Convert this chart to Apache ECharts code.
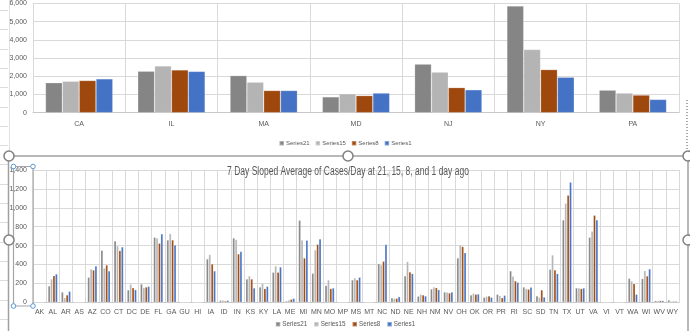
<!DOCTYPE html>
<html>
<head>
<meta charset="utf-8">
<script src="https://cdn.jsdelivr.net/npm/echarts@6/dist/echarts.min.js"></script>
<style>
html,body{margin:0;padding:0;background:#fff;}
#c{width:690px;height:331px;}
</style>
</head>
<body>
<div id="c"></div>
<script>
// ---- Top chart data ----
const topCats = ['CA','IL','MA','MD','NJ','NY','PA'];
const topS21 = [1650, 2280, 2040, 870, 2670, 5860, 1240];
const topS15 = [1730, 2570, 1680, 1040, 2230, 3470, 1080];
const topS8  = [1770, 2350, 1220, 940, 1380, 2370, 970];
const topS1  = [1860, 2270, 1220, 1080, 1260, 1950, 730];

// ---- Bottom chart data ----
const botCats = ['AK','AL','AR','AS','AZ','CO','CT','DC','DE','FL','GA','GU','HI','IA','ID','IN','KS','KY','LA','ME','MI','MN','MO','MP','MS','MT','NC','ND','NE','NH','NM','NV','OH','OK','OR','PR','RI','SC','SD','TN','TX','UT','VA','VI','VT','WA','WI','WV','WY'];
const botS21 = [0,173,109,0,265,551,650,131,194,688,660,0,0,459,21,681,247,162,318,14,868,307,177,0,237,0,409,46,279,64,141,109,469,78,53,85,332,162,67,349,872,152,688,0,0,254,251,18,25];
const botS15 = [0,247,49,0,353,364,597,191,155,681,727,0,0,505,21,664,279,201,385,25,660,554,237,0,258,0,395,42,431,85,162,106,607,95,64,71,275,145,53,501,1048,152,752,0,3,226,335,18,11];
const botS8  = [0,282,78,0,342,395,547,155,162,625,660,0,0,406,14,512,247,145,318,32,469,614,145,0,237,0,434,42,321,78,155,99,590,85,67,49,226,138,131,342,1133,145,921,0,0,198,279,18,11];
const botS1  = [0,300,116,0,385,332,586,134,169,724,607,0,0,332,21,537,152,169,374,42,657,671,152,0,265,0,611,60,304,67,134,109,526,88,53,74,212,159,56,304,1271,152,872,0,0,85,353,18,11];

const seriesNames = ['Series21','Series15','Series8','Series1'];
const colors = ['#858585','#b4b4b4','#9e480e','#4472c4'];
const titleText = '7 Day Sloped Average of Cases/Day at 21, 15, 8, and 1 day ago';

const FONT = '"Liberation Sans",Arial,sans-serif';
const TXT = '#595959';
const GRIDC = '#d9d9d9';

function mkSeries(data, i, axisIdx) {
  return {
    name: seriesNames[i], type: 'bar', xAxisIndex: axisIdx, yAxisIndex: axisIdx,
    data: data, barGap: '0%', barCategoryGap: '27%',
    itemStyle: { color: colors[i], borderColor: 'rgba(255,255,255,0.35)', borderWidth: 0.6 },
    emphasis: { disabled: true }, animation: false
  };
}

const chart = echarts.init(document.getElementById('c'), null, { renderer: 'canvas' });

const graphics = [];
// Spreadsheet cell lines on far left
for (let y = 10; y < 331; y += 19.3) {
  graphics.push({ type: 'line', shape: { x1: 0, y1: Math.round(y) + 0.5, x2: 8, y2: Math.round(y) + 0.5 }, style: { stroke: '#dcdcdc', lineWidth: 1 }, silent: true, z: 0 });
}
graphics.push({ type: 'line', shape: { x1: 9.5, y1: 0, x2: 9.5, y2: 156 }, style: { stroke: '#e0e0e0', lineWidth: 1 }, silent: true });
// selection frame of bottom chart
graphics.push({ type: 'line', shape: { x1: 9.5, y1: 156, x2: 688, y2: 156 }, style: { stroke: '#a0a0a0', lineWidth: 1.5 }, silent: true, z: 10 });
graphics.push({ type: 'line', shape: { x1: 8.5, y1: 156, x2: 8.5, y2: 331 }, style: { stroke: '#a0a0a0', lineWidth: 1.5 }, silent: true, z: 10 });
graphics.push({ type: 'line', shape: { x1: 688, y1: 156, x2: 688, y2: 331 }, style: { stroke: '#a0a0a0', lineWidth: 1.5 }, silent: true, z: 10 });
graphics.push({ type: 'line', shape: { x1: 687, y1: 100, x2: 687, y2: 156 }, style: { stroke: '#555', lineWidth: 1, lineDash: [1, 2] }, silent: true, z: 10 });
[[9, 156], [348, 156], [688, 156], [9, 240], [688, 240]].forEach(p => {
  graphics.push({ type: 'circle', shape: { cx: p[0], cy: p[1], r: 5 }, style: { fill: '#fff', stroke: '#808080', lineWidth: 1.5 }, silent: true, z: 11 });
});
// selected y-axis box
graphics.push({ type: 'rect', shape: { x: 13.5, y: 166.5, width: 19.5, height: 139.5 }, style: { fill: 'none', stroke: '#a6a6a6', lineWidth: 1.2 }, silent: true, z: 10 });
[[13.5, 166.5], [33, 166.5], [13.5, 306], [33, 306]].forEach(p => {
  graphics.push({ type: 'circle', shape: { cx: p[0], cy: p[1], r: 2.3 }, style: { fill: '#fff', stroke: '#5b9bd5', lineWidth: 1 }, silent: true, z: 11 });
});
// chart title (condensed, like the Calibri original)
graphics.push({
  type: 'text', x: 348, y: 172, scaleX: 0.68, scaleY: 1, originX: 0, originY: 0,
  style: { text: titleText, fontFamily: FONT, fontSize: 12.5, fill: TXT, align: 'center', verticalAlign: 'middle' },
  silent: true, z: 12
});

const option = {
  animation: false,
  backgroundColor: '#ffffff',
  color: colors,
  legend: [
    { data: seriesNames, left: 'center', top: 140, itemWidth: 4.5, itemHeight: 4.5, itemGap: 5, icon: 'rect', padding: 0,
      textStyle: { fontFamily: FONT, fontSize: 6, color: TXT, padding: [0, 0, 0, -3] } },
    { data: seriesNames, left: 'center', top: 321, itemWidth: 4.5, itemHeight: 4.5, itemGap: 6, icon: 'rect', padding: 0,
      textStyle: { fontFamily: FONT, fontSize: 6.3, color: TXT, padding: [0, 0, 0, -3] } }
  ],
  grid: [
    { left: 33, top: 0, width: 646, height: 112.7, containLabel: false, show: false },
    { left: 33, top: 170, width: 646, height: 132.3, containLabel: false, show: false }
  ],
  xAxis: [
    { type: 'category', gridIndex: 0, data: topCats,
      axisLine: { show: true, lineStyle: { color: '#c8c8c8' } }, axisTick: { show: false },
      splitLine: { show: true, lineStyle: { color: GRIDC } },
      axisLabel: { fontFamily: FONT, fontSize: 7, color: TXT, margin: 8 } },
    { type: 'category', gridIndex: 1, data: botCats,
      axisLine: { show: true, lineStyle: { color: '#c8c8c8' } }, axisTick: { show: false },
      splitLine: { show: true, lineStyle: { color: GRIDC } },
      axisLabel: { fontFamily: FONT, fontSize: 7, color: TXT, margin: 6, interval: 0 } }
  ],
  yAxis: [
    { type: 'value', gridIndex: 0, min: 0, max: 6000, interval: 1000,
      axisLine: { show: false }, axisTick: { show: false },
      splitLine: { show: true, lineStyle: { color: GRIDC } },
      axisLabel: { fontFamily: FONT, fontSize: 7, color: TXT, margin: 6,
        formatter: v => v.toLocaleString('en-US') } },
    { type: 'value', gridIndex: 1, min: 0, max: 1400, interval: 200,
      axisLine: { show: false }, axisTick: { show: false },
      splitLine: { show: true, lineStyle: { color: GRIDC } },
      axisLabel: { fontFamily: FONT, fontSize: 7, color: TXT, margin: 6,
        formatter: v => v.toLocaleString('en-US') } }
  ],
  series: [
    mkSeries(topS21, 0, 0), mkSeries(topS15, 1, 0), mkSeries(topS8, 2, 0), mkSeries(topS1, 3, 0),
    mkSeries(botS21, 0, 1), mkSeries(botS15, 1, 1), mkSeries(botS8, 2, 1), mkSeries(botS1, 3, 1)
  ],
  graphic: graphics
};
chart.setOption(option);
</script>
</body>
</html>
